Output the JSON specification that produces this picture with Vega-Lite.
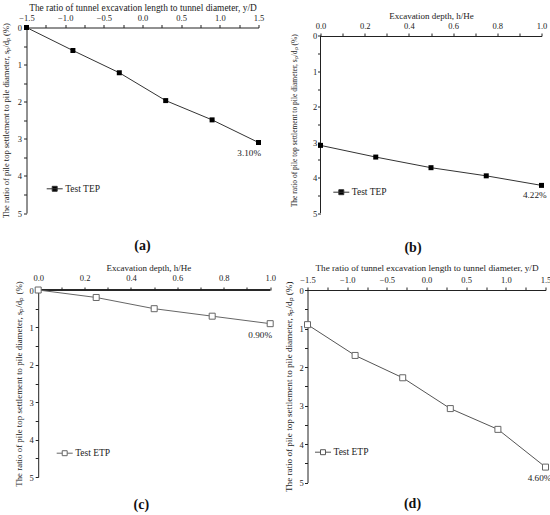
{
  "$schema": "https://vega.github.io/schema/vega-lite/v6.json",
  "background": "white",
  "padding": {"left": 0.5, "top": 1.5, "right": 0, "bottom": 0},
  "config": {
    "font": "Liberation Serif",
    "view": {"stroke": null},
    "axis": {
      "labelFont": "Liberation Serif",
      "titleFont": "Liberation Serif",
      "labelFontSize": 8.5,
      "titleFontWeight": "normal",
      "labelColor": "#222",
      "titleColor": "#222",
      "domainColor": "#222",
      "tickColor": "#222",
      "tickSize": 3,
      "grid": false,
      "labelFlush": false,
      "labelOverlap": false,
      "labelBound": false
    },
    "legend": {
      "orient": "none",
      "padding": 0,
      "symbolSize": 256,
      "symbolStrokeWidth": 1,
      "labelFont": "Liberation Serif",
      "labelFontSize": 9.5,
      "labelColor": "#222",
      "labelOffset": 2
    },
    "title": {
      "orient": "bottom",
      "anchor": "middle",
      "frame": "group",
      "font": "Liberation Serif",
      "fontSize": 14,
      "fontWeight": "bold",
      "color": "#111"
    },
    "text": {"font": "Liberation Serif", "fontSize": 9.2, "color": "#222"}
  },
  "columns": 2,
  "align": "none",
  "spacing": {"row": 7.5, "column": 8},
  "resolve": {"scale": {"color": "independent"}, "legend": {"color": "independent"}},
  "concat": [
    {
      "width": 232,
      "height": 185.5,
      "title": {"text": "(a)", "offset": 21},
      "data": {"values": [
        {"ratio": -1.5, "settlement": 0, "series": "Test TEP"},
        {"ratio": -0.9, "settlement": 0.62, "series": "Test TEP"},
        {"ratio": -0.3, "settlement": 1.22, "series": "Test TEP"},
        {"ratio": 0.3, "settlement": 1.97, "series": "Test TEP"},
        {"ratio": 0.9, "settlement": 2.49, "series": "Test TEP"},
        {"ratio": 1.5, "settlement": 3.1, "series": "Test TEP", "label": "3.10%"}
      ]},
      "encoding": {
        "x": {
          "field": "ratio", "type": "quantitative",
          "scale": {"domain": [-1.5, 1.5], "nice": false, "zero": false},
          "axis": {
            "orient": "top",
            "title": "The ratio of tunnel excavation length to tunnel diameter, y/D",
            "titleFontSize": 9.4,
            "values": [-1.5, -1.25, -1, -0.75, -0.5, -0.25, 0, 0.25, 0.5, 0.75, 1, 1.25, 1.5],
            "labelExpr": "datum.value % 0.5 === 0 ? format(datum.value, '.1f') : ''",
            "labelPadding": 2,
            "titlePadding": 1.5
          }
        },
        "y": {
          "field": "settlement", "type": "quantitative",
          "scale": {"domain": [0, 5], "reverse": true, "nice": false},
          "axis": {
            "title": "The ratio of pile top settlement to pile diameter, sₚ/dₚ (%)",
            "titleFontSize": 8.5,
            "values": [0, 0.5, 1, 1.5, 2, 2.5, 3, 3.5, 4, 4.5, 5],
            "labelExpr": "datum.value % 1 === 0 ? format(datum.value, 'd') : ''",
            "labelPadding": 2,
            "titlePadding": 7
          }
        }
      },
      "layer": [
        {
          "mark": {"type": "line", "strokeWidth": 1},
          "encoding": {
            "color": {
              "field": "series", "type": "nominal",
              "scale": {"range": ["#333333"]},
              "legend": {
                "title": null, "legendX": 19.7, "legendY": 152.8,
                "labelFont": "Liberation Serif",
                "symbolType": "M-1,0H1M-0.31,-0.31H0.31V0.31H-0.31Z",
                "symbolFillColor": "#000000", "symbolStrokeColor": "#333333"
              }
            }
          }
        },
        {"mark": {"type": "point", "shape": "square", "filled": true, "size": 25, "color": "#000000", "opacity": 1}},
        {
          "transform": [{"filter": "isValid(datum.label)"}],
          "mark": {"type": "text", "dx": -9.3, "dy": 10.7},
          "encoding": {"text": {"field": "label"}}
        }
      ]
    },
    {
      "width": 221,
      "height": 185.5,
      "title": {"text": "(b)", "offset": 23.5, "dx": -18},
      "data": {"values": [
        {"depth": 0, "settlement": 3.09, "series": "Test TEP"},
        {"depth": 0.25, "settlement": 3.42, "series": "Test TEP"},
        {"depth": 0.5, "settlement": 3.72, "series": "Test TEP"},
        {"depth": 0.75, "settlement": 3.95, "series": "Test TEP"},
        {"depth": 1, "settlement": 4.22, "series": "Test TEP", "label": "4.22%"}
      ]},
      "encoding": {
        "x": {
          "field": "depth", "type": "quantitative",
          "scale": {"domain": [0, 1], "nice": false, "zero": false},
          "axis": {
            "orient": "top",
            "offset": -8.5,
            "title": "Excavation depth, h/He",
            "titleFontSize": 9,
            "values": [0, 0.1, 0.2, 0.3, 0.4, 0.5, 0.6, 0.7, 0.8, 0.9, 1],
            "labelExpr": "round(datum.value * 10) % 2 === 0 ? format(datum.value, '.1f') : ''",
            "labelPadding": 2.3,
            "titlePadding": 1.2
          }
        },
        "y": {
          "field": "settlement", "type": "quantitative",
          "scale": {"domain": [-0.2401, 5], "reverse": true, "nice": false, "zero": false},
          "axis": {
            "domain": false,
            "title": ["", "The ratio of pile top settlement to pile diameter, sₚ/dₚ (%)"],
            "titleLineHeight": 6,
            "titleFontSize": 7.5,
            "values": [0, 0.5, 1, 1.5, 2, 2.5, 3, 3.5, 4, 4.5, 5],
            "labelExpr": "datum.value % 1 === 0 ? format(datum.value, 'd') : ''",
            "labelPadding": 0.7,
            "titlePadding": 13.7
          }
        }
      },
      "layer": [
        {
          "mark": {"type": "rule", "color": "#222222", "strokeWidth": 1},
          "encoding": {"x": {"datum": 0}, "y": {"datum": 0}, "y2": {"datum": 5}}
        },
        {
          "mark": {"type": "line", "strokeWidth": 1},
          "encoding": {
            "color": {
              "field": "series", "type": "nominal",
              "scale": {"range": ["#333333"]},
              "legend": {
                "title": null, "legendX": 12.3, "legendY": 156.2,
                "labelFont": "Liberation Serif",
                "symbolType": "M-1,0H1M-0.31,-0.31H0.31V0.31H-0.31Z",
                "symbolFillColor": "#000000", "symbolStrokeColor": "#333333"
              }
            }
          }
        },
        {"mark": {"type": "point", "shape": "square", "filled": true, "size": 25, "color": "#000000", "opacity": 1}},
        {
          "transform": [{"filter": "isValid(datum.label)"}],
          "mark": {"type": "text", "dx": -6.7, "dy": 9.6},
          "encoding": {"text": {"field": "label"}}
        }
      ]
    },
    {
      "width": 243.7,
      "height": 187,
      "title": {"text": "(c)", "offset": 12, "dx": -7},
      "data": {"values": [
        {"depth": 0, "settlement": 0, "series": "Test ETP"},
        {"depth": 0.25, "settlement": 0.2, "series": "Test ETP"},
        {"depth": 0.5, "settlement": 0.5, "series": "Test ETP"},
        {"depth": 0.75, "settlement": 0.7, "series": "Test ETP"},
        {"depth": 1, "settlement": 0.9, "series": "Test ETP", "label": "0.90%"}
      ]},
      "encoding": {
        "x": {
          "field": "depth", "type": "quantitative",
          "scale": {"domain": [-0.0504, 1], "nice": false, "zero": false},
          "axis": {
            "orient": "top",
            "domain": false,
            "title": "Excavation depth, h/He",
            "titleFontSize": 9,
            "values": [0, 0.1, 0.2, 0.3, 0.4, 0.5, 0.6, 0.7, 0.8, 0.9, 1],
            "labelExpr": "round(datum.value * 10) % 2 === 0 ? format(datum.value, '.1f') : ''",
            "labelPadding": 4.3,
            "titlePadding": 1
          }
        },
        "y": {
          "field": "settlement", "type": "quantitative",
          "scale": {"domain": [0, 5], "reverse": true, "nice": false},
          "axis": {
            "offset": -11.7,
            "title": "The ratio of pile top settlement to pile diameter, sₚ/dₚ (%)",
            "titleFontSize": 8.9,
            "values": [0, 0.5, 1, 1.5, 2, 2.5, 3, 3.5, 4, 4.5, 5],
            "labelExpr": "datum.value % 1 === 0 ? format(datum.value, 'd') : ''",
            "labelPadding": 2,
            "titlePadding": 5
          }
        }
      },
      "layer": [
        {
          "mark": {"type": "rule", "color": "#222222", "strokeWidth": 1},
          "encoding": {"x": {"datum": 0}, "x2": {"datum": 1}, "y": {"datum": 0}}
        },
        {
          "mark": {"type": "line", "strokeWidth": 1},
          "encoding": {
            "color": {
              "field": "series", "type": "nominal",
              "scale": {"range": ["#666666"]},
              "legend": {
                "title": null, "legendX": 29.7, "legendY": 154.7,
                "labelFont": "Liberation Serif",
                "symbolType": "M-1,0H-0.31M0.31,0H1M-0.31,-0.31H0.31V0.31H-0.31Z",
                "symbolFillColor": "#ffffff", "symbolStrokeColor": "#666666"
              }
            }
          }
        },
        {"mark": {"type": "point", "shape": "square", "filled": false, "fill": "#ffffff", "stroke": "#666666", "strokeWidth": 1, "size": 36, "opacity": 1}},
        {
          "transform": [{"filter": "isValid(datum.label)"}],
          "mark": {"type": "text", "dx": -10, "dy": 11.3},
          "encoding": {"text": {"field": "label"}}
        }
      ]
    },
    {
      "width": 238,
      "height": 192.5,
      "title": {"text": "(d)", "offset": 5.5, "dx": -14},
      "data": {"values": [
        {"ratio": -1.5, "settlement": 0.9, "series": "Test ETP"},
        {"ratio": -0.9, "settlement": 1.7, "series": "Test ETP"},
        {"ratio": -0.3, "settlement": 2.28, "series": "Test ETP"},
        {"ratio": 0.3, "settlement": 3.08, "series": "Test ETP"},
        {"ratio": 0.9, "settlement": 3.62, "series": "Test ETP"},
        {"ratio": 1.5, "settlement": 4.6, "series": "Test ETP", "label": "4.60%"}
      ]},
      "encoding": {
        "x": {
          "field": "ratio", "type": "quantitative",
          "scale": {"domain": [-1.5, 1.5], "nice": false, "zero": false},
          "axis": {
            "orient": "top",
            "title": "The ratio of tunnel excavation length to tunnel diameter, y/D",
            "titleFontSize": 9.2,
            "values": [-1.5, -1.25, -1, -0.75, -0.5, -0.25, 0, 0.25, 0.5, 0.75, 1, 1.25, 1.5],
            "labelExpr": "datum.value % 0.5 === 0 ? format(datum.value, '.1f') : ''",
            "labelPadding": 3,
            "titlePadding": 2.2
          }
        },
        "y": {
          "field": "settlement", "type": "quantitative",
          "scale": {"domain": [0, 5], "reverse": true, "nice": false},
          "axis": {
            "title": "The ratio of pile top settlement to pile diameter, sₚ/dₚ (%)",
            "titleFontSize": 9.1,
            "values": [0, 0.5, 1, 1.5, 2, 2.5, 3, 3.5, 4, 4.5, 5],
            "labelExpr": "datum.value % 1 === 0 ? format(datum.value, 'd') : ''",
            "labelPadding": 1.2,
            "titlePadding": 5.3
          }
        }
      },
      "layer": [
        {
          "mark": {"type": "line", "strokeWidth": 1},
          "encoding": {
            "color": {
              "field": "series", "type": "nominal",
              "scale": {"range": ["#555555"]},
              "legend": {
                "title": null, "legendX": 7, "legendY": 153.7,
                "labelFont": "Liberation Serif",
                "symbolType": "M-1,0H-0.31M0.31,0H1M-0.31,-0.31H0.31V0.31H-0.31Z",
                "symbolFillColor": "#ffffff", "symbolStrokeColor": "#555555"
              }
            }
          }
        },
        {"mark": {"type": "point", "shape": "square", "filled": false, "fill": "#ffffff", "stroke": "#666666", "strokeWidth": 1, "size": 36, "opacity": 1}},
        {
          "transform": [{"filter": "isValid(datum.label)"}],
          "mark": {"type": "text", "dx": -6, "dy": 10.6},
          "encoding": {"text": {"field": "label"}}
        }
      ]
    }
  ]
}
